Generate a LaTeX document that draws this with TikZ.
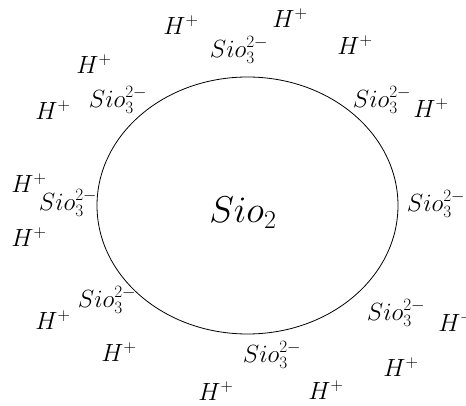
\documentclass[tikz,border=0pt]{standalone}
\begin{document}
\begin{tikzpicture}[x=1pt, y=-1pt, every node/.style={inner sep=0pt, font=\fontsize{25}{25}\selectfont}]
  \useasboundingbox (0,0) rectangle (466,406);
  \clip (0,0) rectangle (466,406);
  % particle
  \draw[line width=0.8pt] (247.5,205.5) ellipse (150.5 and 128.5);
  \node[scale=1.5] (core) at (243,213) {$Sio_2$};
  % surface silicate ions
  \node (s1) at (239,50) {$Sio_3^{2-}$};
  \node (s2) at (118,100) {$Sio_3^{2-}$};
  \node (s3) at (382,100) {$Sio_3^{2-}$};
  \node (s4) at (68,203) {$Sio_3^{2-}$};
  \node (s5) at (436,204) {$Sio_3^{2-}$};
  \node (s6) at (107,300) {$Sio_3^{2-}$};
  \node (s7) at (396,313) {$Sio_3^{2-}$};
  \node (s8) at (272,355) {$Sio_3^{2-}$};
  % protons
  \node (h1) at (181,25) {$H^+$};
  \node (h2) at (290,18) {$H^+$};
  \node (h3) at (355,45) {$H^+$};
  \node (h4) at (94,64) {$H^+$};
  \node (h5) at (53,110) {$H^+$};
  \node (h6) at (431,108) {$H^+$};
  \node (h7) at (29,183) {$H^+$};
  \node (h8) at (29,237) {$H^+$};
  \node (h9) at (53,320) {$H^+$};
  \node (h10) at (119,352) {$H^+$};
  \node (h11) at (216,391) {$H^+$};
  \node (h12) at (326,390) {$H^+$};
  \node (h13) at (401,367) {$H^+$};
  \node (h14) at (456,322) {$H^+$};
\end{tikzpicture}
\end{document}
